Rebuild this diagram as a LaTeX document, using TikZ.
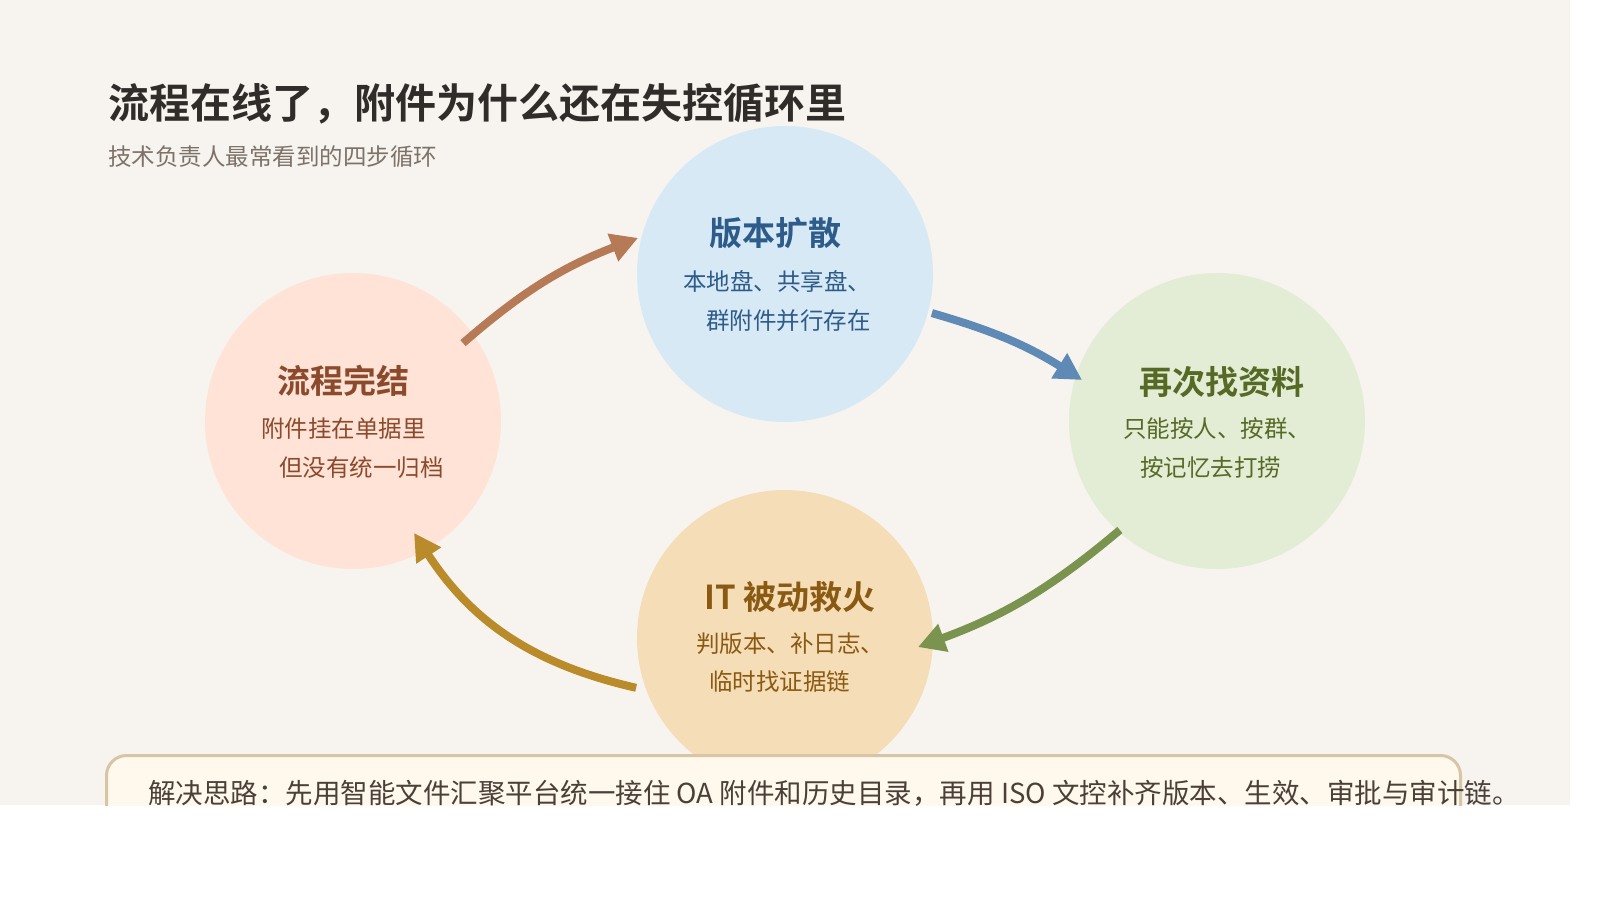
\documentclass[tikz,border=0pt]{standalone}
\usepackage{fontspec}
\newfontfamily\cjk{Noto Sans CJK SC}[BoldFont={Noto Sans CJK SC Bold}]
\usetikzlibrary{arrows.meta}
\definecolor{paper}{HTML}{F7F4EF}
\definecolor{ink}{HTML}{2F2C2A}
\definecolor{muted}{HTML}{7D726A}
\definecolor{pinkfill}{HTML}{FEE3D6}
\definecolor{bluefill}{HTML}{D8E9F6}
\definecolor{greenfill}{HTML}{E3EDD5}
\definecolor{tanfill}{HTML}{F5DEB7}
\definecolor{pinkink}{HTML}{8C4A2C}
\definecolor{blueink}{HTML}{2D5B8A}
\definecolor{greenink}{HTML}{566A26}
\definecolor{tanink}{HTML}{8A5A12}
\definecolor{brownarrow}{HTML}{B77A57}
\definecolor{bluearrow}{HTML}{5F8AB5}
\definecolor{greenarrow}{HTML}{7A9450}
\definecolor{goldarrow}{HTML}{B98B2B}
\definecolor{notefill}{HTML}{FFF8EC}
\definecolor{noteline}{HTML}{D7C5A5}
\definecolor{notetext}{HTML}{4A4038}
\tikzset{stage/.style={circle,minimum size=296pt,inner sep=0pt}}
\tikzset{stagehead/.style={inner sep=0pt,font=\cjk\bfseries\fontsize{33}{40}\selectfont}}
\tikzset{stagebody/.style={anchor=west,inner sep=0pt,font=\cjk\fontsize{23.5}{28}\selectfont}}
\tikzset{cyclearrow/.style={line width=8pt,-{Triangle[length=27pt,width=28pt]}}}

\begin{document}
\begin{tikzpicture}[x=1pt,y=-1pt]
    \useasboundingbox (0,0) rectangle (1600,900);
    \fill[white] (0,0) rectangle (1600,900);
    \begin{scope}
    \clip (0,0) rectangle (1570,805);
    \fill[paper] (0,0) rectangle (1570,805);
    % Title
    \node[anchor=west,inner sep=0pt,text=ink,font=\cjk\bfseries\fontsize{41}{48}\selectfont]
          (title) at (108,104) {流程在线了，附件为什么还在失控循环里};
    \node[anchor=west,inner sep=0pt,text=muted,font=\cjk\fontsize{23.5}{28}\selectfont]
          (subtitle) at (108,157) {技术负责人最常看到的四步循环};
    % Stages
    \foreach \name/\x/\y/\fil in {flow/353/421/pinkfill,spread/785/274/bluefill,
                                  search/1217/421/greenfill,rescue/785/638/tanfill}{%
          \node[stage,fill=\fil] (\name) at (\x,\y) {};
        }
    \node[stagehead,text=pinkink] (flowhead) at (343,381) {流程完结};
    \node[stagebody,text=pinkink] (flowa) at (261,429) {附件挂在单据里};
    \node[stagebody,text=pinkink] (flowb) at (279,468) {但没有统一归档};
    \node[stagehead,text=blueink] (spreadhead) at (775,233) {版本扩散};
    \node[stagebody,text=blueink] (spreada) at (683,281) {本地盘、共享盘、};
    \node[stagebody,text=blueink] (spreadb) at (706,321) {群附件并行存在};
    \node[stagehead,text=greenink] (searchhead) at (1222,382) {再次找资料};
    \node[stagebody,text=greenink] (searcha) at (1123,429) {只能按人、按群、};
    \node[stagebody,text=greenink] (searchb) at (1140,468) {按记忆去打捞};
    \node[stagehead,text=tanink] (rescuehead) at (790,597) {IT 被动救火};
    \node[stagebody,text=tanink] (rescuea) at (696,644) {判版本、补日志、};
    \node[stagebody,text=tanink] (rescueb) at (709,682) {临时找证据链};
    % Arrows
    \draw[cyclearrow,brownarrow] ([shift={(35.3:134.8pt)}]flow.center)
          to[bend left=10] ([shift={(166.2:151.3pt)}]spread.center);
    \draw[cyclearrow,bluearrow] ([shift={(-14.9:152pt)}]spread.center)
          to[bend left=8] ([shift={(163.1:141pt)}]search.center);
    \draw[cyclearrow,greenarrow] ([shift={(228.3:146pt)}]search.center)
          to[bend left=10] ([shift={(-3.9:133.3pt)}]rescue.center);
    \draw[cyclearrow,goldarrow] ([shift={(198.5:157pt)}]rescue.center)
          to[bend left=22] ([shift={(-61.4:127.5pt)}]flow.center);
    % Note
    \node[draw=noteline,line width=3pt,fill=notefill,rounded corners=20pt,anchor=north west,
          minimum width=1354pt,minimum height=120pt] (note) at (105,754) {};
    \node[anchor=west,inner sep=0pt,text=notetext,font=\cjk\fontsize{27.5}{33}\selectfont]
          (notetext) at (148,793) {解决思路：先用智能文件汇聚平台统一接住 OA 附件和历史目录，再用 ISO 文控补齐版本、生效、审批与审计链。};
    \end{scope}
\end{tikzpicture}
\end{document}
